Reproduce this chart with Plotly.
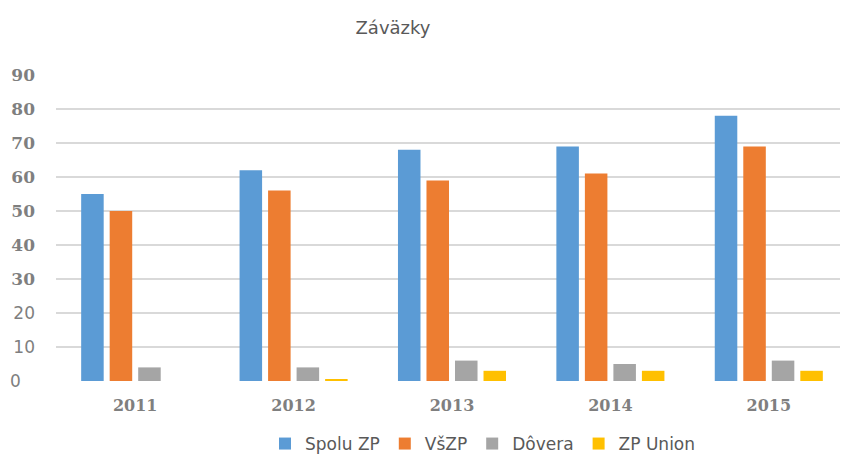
import plotly.graph_objects as go

years = ["2011", "2012", "2013", "2014", "2015"]
spolu_zp = [55, 62, 68, 69, 78]
vszp = [50, 56, 59, 61, 69]
dovera = [4, 4, 6, 5, 6]
zp_union = [0, 0.3, 3, 3, 3]

series_names = ["Spolu ZP", "VšZP", "Dôvera", "ZP Union"]
colors = ["#5B9BD5", "#ED7D31", "#A5A5A5", "#FFC000"]

y_ticks = [0, 10, 20, 30, 40, 50, 60, 70, 80, 90]
grid_ticks = [0, 10, 20, 30, 40, 50, 60, 70, 80]

serif = "DejaVu Serif"
sans = "DejaVu Sans"


def ylabel(v):
    if v < 30:
        pad = "\u2007\u2009" if v < 10 else ""
        return f'<span style="font-family:{sans};font-weight:normal">{v}{pad}</span>'
    return f"<b>{v}</b>"


fig = go.Figure()
for name, vals, col in zip(series_names, [spolu_zp, vszp, dovera, zp_union], colors):
    fig.add_trace(go.Bar(x=years, y=vals, name=name, marker=dict(color=col, line=dict(width=0))))

# invisible helper trace for the gridline axis
fig.add_trace(go.Scatter(x=years, y=[None] * len(years), yaxis="y2", showlegend=False,
                         hoverinfo="skip", mode="markers", marker=dict(opacity=0)))

W, H = 840, 447
fig.update_layout(
    width=W, height=H,
    margin=dict(l=48, r=0, t=67, b=74, autoexpand=False),
    paper_bgcolor="white", plot_bgcolor="white",
    barmode="group", bargap=0.28, bargroupgap=0.21,
    title=dict(text="Záväzky", x=385 / W, xanchor="center", y=1 - 20 / H, yanchor="middle",
               font=dict(family=sans, size=18, color="#595959")),
    xaxis=dict(showgrid=False, showline=False, ticks="", zeroline=False,
               tickfont=dict(family=serif, size=16, color="#7F7F7F"),
               tickvals=years, ticktext=[f"<b>{y}</b>" for y in years],
               ticklabelstandoff=13),
    yaxis=dict(range=[0, 90], tickvals=y_ticks, ticktext=[ylabel(v) for v in y_ticks],
               showgrid=False, zeroline=False, showline=False, ticks="",
               tickfont=dict(family=serif, size=17, color="#7F7F7F"),
               ticklabelstandoff=20),
    yaxis2=dict(range=[0, 90], overlaying="y", side="left", tickvals=grid_ticks,
                showticklabels=False, showgrid=True, gridcolor="#D9D9D9", gridwidth=1.5,
                zeroline=False, showline=False, ticks=""),
    legend=dict(orientation="h", xref="container", yref="container",
                x=475 / W, xanchor="center", y=1 - 436 / H, yanchor="middle",
                font=dict(family=sans, size=17, color="#595959"), itemwidth=30,
                traceorder="normal"),
)

fig.write_html("out.html")
